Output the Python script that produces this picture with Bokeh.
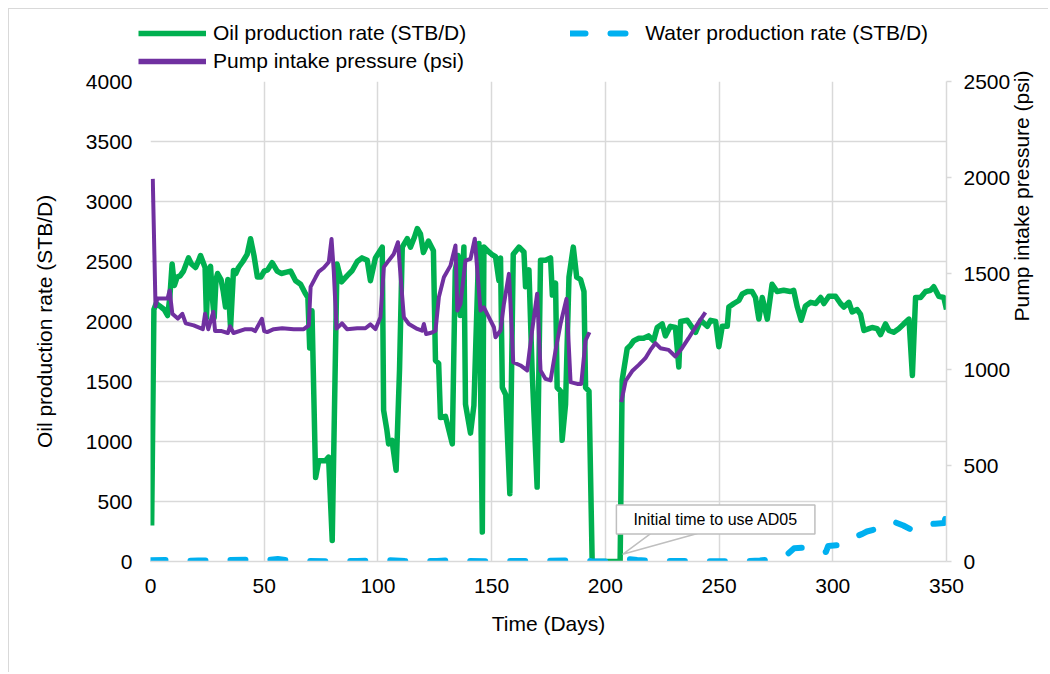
import math
from bokeh.plotting import figure
from bokeh.layouts import column
from bokeh.models import (Range1d, LinearAxis, Legend, LegendItem, Label, FixedTicker)
from bokeh.embed import file_html
from bokeh.resources import INLINE

# ---------------- data ----------------
oil_days = [0.5, 1.5, 2.5, 4, 6, 7.5, 8.5, 9.5, 10.5, 11.7, 13, 14.5, 16.7, 18, 19.8, 21, 22, 23, 24,
            24.6, 25.3, 26.4, 27.2, 28, 28.8, 29.5, 31, 32, 33, 34, 35.2, 36.5, 37.5, 38.7, 40.6, 42.5,
            44, 45.5, 47, 48.5, 50, 51.5, 53.5, 55.7, 57.5, 59.4, 61.6, 63.8, 66, 68.2, 69.2, 70, 71,
            72.6, 74, 76.9, 78.3, 79.9, 82, 84, 86.4, 88.7, 90.9, 93, 95.3, 96.7, 98.9, 101.9, 102.5,
            103.9, 104.7, 106.2, 108, 109.5, 110.7, 112.9, 114.3, 116, 117.3, 118.7, 120, 122.2, 124.4,
            125.3, 126.7, 127.5, 129.7, 132.7, 134, 135.2, 136.2, 137.8, 138.5, 140.7, 142.2, 144.4,
            145.9, 146.6, 148.8, 150, 151.7, 153.2, 153.9, 154.7, 156.2, 158, 159.5, 162, 164.2, 164.9,
            166.4, 167.8, 170, 171.5, 173.7, 175.9, 176.7, 178.1, 178.8, 180.3, 181, 182.5, 184, 185.9,
            187.4, 189.1, 190.6, 191.3, 192.8, 194.2, 200, 206.5, 207.4, 209.6, 211, 212.5, 214.7,
            216.8, 219, 221.2, 222.8, 225, 226.4, 228.6, 230.8, 232.3, 233.1, 236, 238.2, 239.7, 241.9,
            244.8, 246.3, 248.5, 249.9, 251.4, 253.6, 254.3, 256.5, 258.7, 260.2, 262.4, 264.5, 266,
            267.5, 269, 271.2, 273.3, 275.5, 278.4, 281.3, 282.8, 284.4, 286.1, 288, 290.3, 292.5,
            294.7, 296.1, 298.3, 301.2, 303.4, 304.9, 307.1, 308.5, 310.7, 312.2, 313.7, 315.9, 317.3,
            319.5, 321, 323.2, 324.7, 326.8, 329, 331.2, 333.5, 335, 336.4, 338.6, 340.8, 343, 344.4,
            346.6, 348.8, 350]
oil_rate = [300, 2100, 2150, 2130, 2100, 2050, 2200, 2480, 2300, 2370, 2380, 2420, 2530, 2480, 2450, 2500,
            2550, 2500, 2450, 2030, 2400, 2460, 2200, 2030, 2350, 2400, 2350, 2250, 2120, 2350, 1950,
            2425, 2400, 2450, 2500, 2560, 2690, 2550, 2370, 2370, 2420, 2430, 2490, 2420, 2400, 2410,
            2420, 2340, 2310, 2230, 2200, 1780, 2090, 700, 840, 840, 870, 175, 2480, 2330, 2380, 2425,
            2500, 2530, 2510, 2340, 2530, 2620, 1260, 1100, 980, 1010, 760, 1600, 2620, 2690, 2620,
            2700, 2775, 2730, 2575, 2670, 2590, 1675, 1650, 1200, 1210, 980, 2425, 2550, 2050, 2620,
            1310, 1070, 1300, 2650, 245, 2620, 2580, 2560, 2540, 2340, 2530, 1450, 1390, 565, 2560,
            2620, 2580, 2290, 2430, 1590, 620, 2510, 2510, 2530, 2220, 2320, 1450, 1420, 1010, 1310,
            2370, 2620, 2370, 2350, 2250, 1450, 1420, 0, 0, 0, 1510, 1775, 1800, 1840, 1860, 1860,
            1880, 1840, 1950, 1980, 1880, 1960, 1950, 1620, 2000, 2010, 1950, 1910, 2010, 1960, 2010,
            2000, 1790, 1960, 1960, 2120, 2150, 2175, 2230, 2250, 2250, 2200, 2020, 2200, 2020, 2310,
            2250, 2260, 2250, 2260, 2120, 2010, 2130, 2160, 2150, 2200, 2150, 2210, 2210, 2150, 2120,
            2160, 2080, 2100, 2060, 1925, 1940, 1950, 1940, 1890, 1980, 1925, 1910, 1940, 1980, 2020,
            1550, 2200, 2200, 2250, 2260, 2290, 2210, 2200, 2100]

water_days = [0, 7, 14, 21, 28, 35, 42, 49, 56, 63, 70, 77, 84, 91, 98, 105, 112, 119, 126, 133, 140,
              147, 154, 161, 168, 175, 182, 189, 194, 200, 207, 210, 214, 220, 230, 240, 250, 260, 268,
              273, 276, 280, 283, 287, 291, 295, 297, 298, 302, 305, 309, 313, 315, 319, 322, 324, 327,
              331, 334, 336, 340, 345, 349, 350]
water_rate = [10, 12, 5, 8, 10, 12, 15, 8, 20, 5, 5, 3, 5, 5, 8, 10, 5, 5, 5, 10, 5, 3, 5, 5, 3, 5, 8,
              10, 3, 0, 5, 20, 12, 5, 5, 3, 3, 3, 8, 20, 30, 60, 110, 115, 100, 70, 80, 130, 135, 160,
              200, 230, 250, 270, 290, 320, 330, 300, 270, 300, 310, 315, 320, 410]

pip_days = [1, 2.2, 3, 5, 7.5, 8.4, 9.6, 12, 14, 15.5, 19, 23, 24, 25.4, 27.6, 28.4, 31.3, 34, 35, 36.5,
            41.7, 44.6, 46, 49, 50, 51.3, 54.2, 57.9, 63, 67.4, 69.6, 70.4, 72.6, 74, 76.2, 78.4, 79.6,
            80.6, 81.8, 84.2, 86.4, 90.9, 94.5, 96.7, 98.9, 101.1, 102.6, 104.7, 106.9, 108.8, 110,
            111.4, 113.6, 117.3, 119.4, 120.2, 121.2, 123.8, 125.3, 126.8, 129, 131.9, 134.1, 134.9,
            136.3, 138.5, 140.7, 142.6, 143.7, 145.1, 146.6, 148.8, 151, 151.7, 153.9, 155.4, 157.6,
            158.3, 159.5, 162.7, 165.6, 167.8, 170, 171.5, 173.7, 175.9, 178.1, 180.3, 182.9, 184.7,
            187.6, 189.4, 191.3, 193]
pip_psi = [1993, 1330, 1370, 1370, 1370, 1411, 1290, 1265, 1290, 1240, 1230, 1210, 1290, 1210, 1300,
           1200, 1200, 1190, 1225, 1190, 1210, 1210, 1200, 1264, 1200, 1195, 1210, 1215, 1210, 1210,
           1230, 1430, 1480, 1510, 1530, 1560, 1680, 1510, 1213, 1240, 1210, 1215, 1215, 1235, 1210,
           1272, 1533, 1567, 1600, 1663, 1480, 1272, 1237, 1211, 1202, 1237, 1185, 1193, 1202, 1377,
           1480, 1541, 1646, 1307, 1342, 1567, 1576, 1681, 1515, 1307, 1324, 1272, 1220, 1168, 1203,
           1342, 1498, 1342, 1038, 1021, 995, 1203, 1394, 995, 951, 943, 1099, 1238, 1368, 934, 925,
           925, 1151, 1194]
pip2_days = [207, 208.9, 211.8, 214.7, 217.6, 219.8, 222, 224.2, 227.8, 230.8, 233.7, 236.6, 240.3, 244]
pip2_psi = [830, 940, 992, 1024, 1059, 1102, 1137, 1111, 1102, 1068, 1111, 1163, 1233, 1298]

x_ticks = [0, 50, 100, 150, 200, 250, 300, 350]
y_ticks = [0, 500, 1000, 1500, 2000, 2500, 3000, 3500, 4000]
psi_ticks = [0, 500, 1000, 1500, 2000, 2500]

series_labels = ["Oil production rate (STB/D)", "Water production rate (STB/D)",
                 "Pump intake pressure (psi)"]

annot_text = "Initial time to use AD05"
annot_tip = (207.6, 60)        # day, STB/D the callout points at
annot_base = ([219.9, 240.5], 233)
annot_center = (248.5, 350)

# ---------------- styling ----------------
FONT = "Liberation Sans"
GREEN = "#00B050"
BLUE = "#00B0F0"
PURPLE = "#7030A0"
GRID = "#d9d9d9"
W = 1048
LEG_H = 81

oil_style = dict(line_color=GREEN, line_width=5.5, line_join="round")
water_style = dict(line_color=BLUE, line_width=6, line_dash="15 25", line_cap="round",
                   line_join="round")
pip_style = dict(line_color=PURPLE, line_width=4, line_join="round")

frame_css = {
    "background-image": "linear-gradient(#d9d9d9,#d9d9d9), linear-gradient(#d9d9d9,#d9d9d9)",
    "background-size": "calc(100% - 8px) 1px, 1px calc(100% - 8px)",
    "background-position": "8px 8px, 8px 8px",
    "background-repeat": "no-repeat",
}

# ---------- main chart ----------
p = figure(width=W, height=672 - LEG_H + 12, x_range=Range1d(0, 350), y_range=Range1d(0, 4000),
           output_backend="svg", toolbar_location=None,
           min_border_left=150, min_border_right=102, min_border_top=12, min_border_bottom=111,
           styles={"margin-top": "-12px"})
p.frame_align = False
p.extra_y_ranges = {"psi": Range1d(0, 2500)}
p.outline_line_color = None
p.background_fill_color = "white"
p.border_fill_color = None

p.xgrid.ticker = FixedTicker(ticks=x_ticks)
p.ygrid.ticker = FixedTicker(ticks=y_ticks)
p.xgrid.grid_line_color = GRID
p.ygrid.grid_line_color = GRID
p.xgrid.grid_line_width = 1.5
p.ygrid.grid_line_width = 1.5

xa = p.xaxis[0]
xa.ticker = FixedTicker(ticks=x_ticks)
xa.axis_label = "Time (Days)"
xa.axis_line_color = GRID
xa.axis_line_width = 1.5
xa.major_tick_line_color = None
xa.minor_tick_line_color = None
xa.major_label_standoff = 11
xa.axis_label_standoff = 16

ya = p.yaxis[0]
ya.ticker = FixedTicker(ticks=y_ticks)
ya.axis_label = "Oil production rate (STB/D)"
ya.axis_line_color = None
ya.major_tick_line_color = None
ya.minor_tick_line_color = None
ya.major_label_standoff = 12
ya.axis_label_standoff = 27

ra = LinearAxis(y_range_name="psi", ticker=FixedTicker(ticks=psi_ticks),
                axis_label="Pump intake pressure (psi)")
ra.axis_line_color = GRID
ra.axis_line_width = 1.5
ra.major_tick_line_color = GRID
ra.major_tick_line_width = 1.5
ra.major_tick_out = 5
ra.major_tick_in = 0
ra.minor_tick_line_color = None
ra.major_label_standoff = 12
ra.axis_label_standoff = 8
ra.axis_label_orientation = math.pi / 2
p.add_layout(ra, "right")

for ax in (xa, ya, ra):
    ax.major_label_text_font = FONT
    ax.major_label_text_font_size = "21px"
    ax.major_label_text_color = "black"
    ax.axis_label_text_font = FONT
    ax.axis_label_text_font_size = "21px"
    ax.axis_label_text_font_style = "normal"
    ax.axis_label_text_color = "black"

p.line(oil_days, oil_rate, **oil_style)
p.line(water_days, water_rate, **water_style)
p.line(pip_days, pip_psi, y_range_name="psi", **pip_style)
p.line(pip2_days, pip2_psi, y_range_name="psi", **pip_style)

# callout
p.patch([annot_base[0][0], annot_tip[0], annot_base[0][1]],
        [annot_base[1], annot_tip[1], annot_base[1]],
        fill_color="white", line_color="#bfbfbf", line_width=1.5)
lab = Label(x=annot_center[0], y=annot_center[1], text=annot_text, text_align="center",
            text_baseline="middle", text_font=FONT, text_font_size="16px", text_color="black",
            background_fill_color="white", border_line_color="#bfbfbf", border_line_width=1.5,
            padding=dict(left=17, right=17, top=6, bottom=6))
p.add_layout(lab)

# ---------- legend strip ----------
lf = figure(width=W, height=LEG_H, x_range=Range1d(0, 1), y_range=Range1d(0, 1),
            x_axis_location=None, y_axis_location=None, toolbar_location=None,
            output_backend="svg", min_border=0)
lf.frame_align = False
lf.outline_line_color = None
lf.background_fill_color = None
lf.border_fill_color = None
lf.grid.visible = False
# legend-only renderers: their data lies outside the strip's ranges, so only the legend shows
l_oil = lf.line([5, 6], [5, 6], **oil_style)
l_water = lf.line([5, 6], [5, 6], **water_style)
l_pip = lf.line([5, 6], [5, 6], **dict(pip_style, line_width=5.5))

common = dict(border_line_color=None, background_fill_alpha=0, padding=0, margin=0,
              glyph_width=68, glyph_height=28, label_height=28, label_standoff=7,
              label_text_font=FONT, label_text_font_size="21px", label_text_color="black")
leg1 = Legend(items=[LegendItem(label=series_labels[0], renderers=[l_oil]),
                     LegendItem(label=series_labels[1], renderers=[l_water])],
              orientation="horizontal", spacing=104, location=(138, LEG_H - 47), **common)
leg2 = Legend(items=[LegendItem(label=series_labels[2], renderers=[l_pip])],
              location=(138, LEG_H - 75), **common)
lf.add_layout(leg1)
lf.add_layout(leg2)

layout = column(lf, p, spacing=0, styles=frame_css)
open("out.html", "w").write(file_html(layout, INLINE))
